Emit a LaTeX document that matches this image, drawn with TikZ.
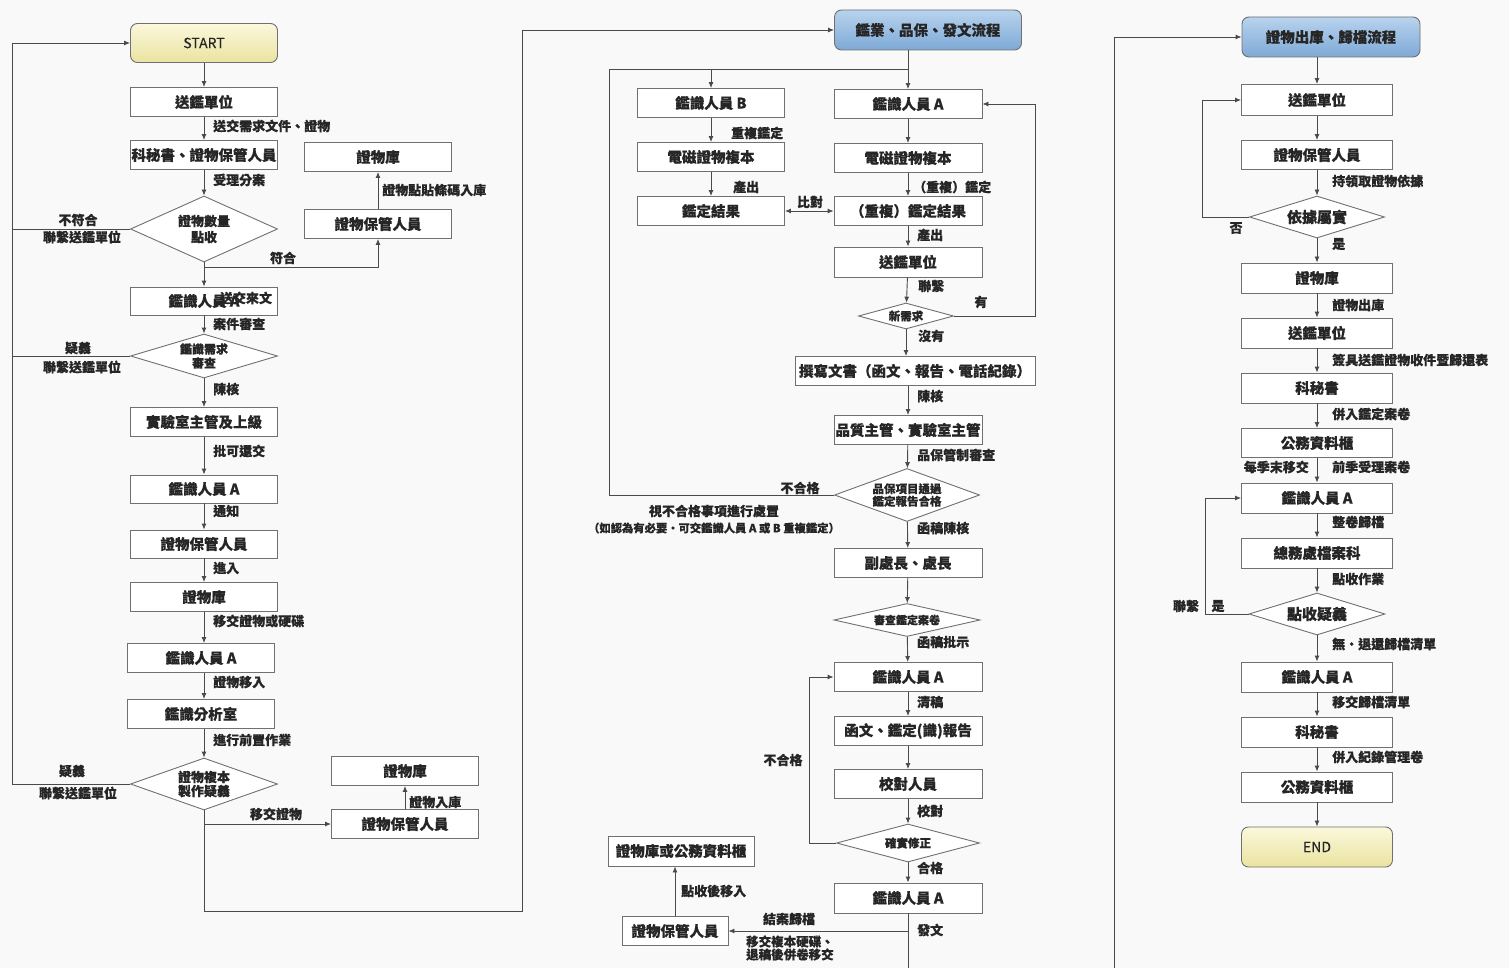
\documentclass[tikz,border=0pt]{standalone}
\usepackage{fontspec}
\setmainfont{Noto Sans CJK TC}[FakeBold=0.3]
\usetikzlibrary{shapes.geometric,arrows.meta}
\newcommand\fsz[2]{\fontsize{#1}{#2}\selectfont\bfseries}
\definecolor{bordergray}{HTML}{707070}
\definecolor{linegray}{HTML}{4A4A4A}
\definecolor{txt}{HTML}{262626}
\definecolor{bgc}{HTML}{F9F9F9}
\definecolor{ytop}{HTML}{FBF8DC}
\definecolor{ybot}{HTML}{EAE3A0}
\definecolor{btop}{HTML}{B8D3EE}
\definecolor{bbot}{HTML}{7EA9D6}
\begin{document}
\begin{tikzpicture}[x=1pt,y=-1pt,
 box/.style={draw=bordergray, line width=0.9pt, fill=white, minimum width=147pt, minimum height=29pt, inner sep=1pt, font=\fsz{14.5}{17}, text=txt},
 term/.style={box, rounded corners=7pt, top color=ytop, bottom color=ybot, minimum height=39pt, font=\fontsize{14}{16}\selectfont\mdseries},
 ttl/.style={box, rounded corners=7pt, top color=btop, bottom color=bbot, minimum height=40pt},
 dia/.style={diamond, draw=bordergray, line width=0.9pt, fill=white, inner sep=0pt, align=center, text=txt},
 lbl/.style={font=\fsz{13}{15}, text=txt, inner sep=0pt},
 arr/.style={draw=linegray, line width=0.9pt, -{Latex[length=6pt,width=5pt]}},
 ln/.style={draw=linegray, line width=0.9pt},
]
\useasboundingbox (0,0) rectangle (1509,968);
\fill[bgc] (0,0) rectangle (1509,968);

% ---------- left column ----------
\node[term] (S) at (204,43) {START};
\node[box] (L1) at (204,102) {送鑑單位};
\node[box] (L2) at (204,155) {科秘書、證物保管人員};
\node[dia, minimum width=147pt, minimum height=66pt, aspect=2.2, font=\fsz{13}{16}] (LD1) at (204,229) {證物數量\\點收};
\node[box] (LR1) at (378,157) {證物庫};
\node[box] (LR2) at (378,224) {證物保管人員};
\node[box, minimum height=28pt] (L3) at (204,301) {鑑識人員 A};
\node[dia, minimum width=147pt, minimum height=44pt, aspect=3.3, font=\fsz{12}{14}] (LD2) at (204,356) {鑑識需求\\審查};
\node[box] (L4) at (204,422) {實驗室主管及上級};
\node[box, minimum height=28pt] (L5) at (204,489) {鑑識人員 A};
\node[box, minimum height=28pt] (L6) at (204,544) {證物保管人員};
\node[box] (L7) at (204,597) {證物庫};
\node[box] (L8) at (201,658) {鑑識人員 A};
\node[box] (L9) at (201,714) {鑑識分析室};
\node[dia, minimum width=147pt, minimum height=52pt, aspect=2.8, font=\fsz{13}{14}] (LD3) at (204,784) {證物複本\\製作疑義};
\node[box] (LB1) at (405,771) {證物庫};
\node[box] (LB2) at (405,824) {證物保管人員};

\draw[arr] (S) -- (L1);
\draw[arr] (L1) -- (L2);
\draw[arr] (L2) -- (LD1);
\draw[arr] (LD1) -- (L3);
\coordinate (j1) at (204,267);
\draw[arr] (j1) -| (LR2.south);
\draw[arr] (LR2) -- (LR1);
\coordinate (LL) at (12,784);
\draw[arr] (LD3.west) -- (LL) |- (S.west);
\draw[ln] (LD1.west) -- (LD1.west -| LL);
\draw[ln] (LD2.west) -- (LD2.west -| LL);
\draw[arr] (L3) -- (LD2);
\draw[arr] (LD2) -- (L4);
\draw[arr] (L4) -- (L5);
\draw[arr] (L5) -- (L6);
\draw[arr] (L6) -- (L7);
\draw[arr] (L7.south) -- (L7.south |- L8.north);
\draw[arr] (L8.south -| L7.south) -- (L9.north -| L7.south);
\draw[arr] (L9.south -| L7.south) -- (LD3.north);
\coordinate (LBot) at (204,911);
\coordinate (LTop) at (522,30);
\draw[ln] (LD3.south) -- (LBot) -| (LTop);
\draw[arr] (LB2.west -| LD3.south) -- (LB2.west);
\draw[arr] (LB2) -- (LB1);

% ---------- middle column ----------
\node[ttl, minimum width=187pt] (M0) at (928,30) {鑑業、品保、發文流程};
\node[box] (B1) at (711,103) {鑑識人員 B};
\node[box, minimum width=148pt] (A1) at (908,104) {鑑識人員 A};
\node[box] (B2) at (711,157) {電磁證物複本};
\node[box, minimum width=148pt] (A2) at (908,158) {電磁證物複本};
\node[box] (B3) at (711,211) {鑑定結果};
\node[box, minimum width=148pt] (A3) at (908,211) {（重複）鑑定結果};
\node[box, minimum width=148pt, minimum height=30pt] (A4) at (908,262) {送鑑單位};
\node[dia, minimum width=95pt, minimum height=26pt, aspect=3.6, font=\fsz{11.5}{13}] (MD1) at (906,316) {新需求};
\node[box, minimum width=240pt] (A5) at (915,371) {撰寫文書（函文、報告、電話紀錄）};
\node[box, minimum width=148pt] (A6) at (908,430) {品質主管、實驗室主管};
\node[dia, minimum width=145pt, minimum height=53pt, aspect=2.7, font=\fsz{11.5}{12.5}] (MD2) at (907,495) {品保項目通過\\鑑定報告合格};
\node[box, minimum width=148pt] (A7) at (908,563) {副處長、處長};
\node[dia, minimum width=146pt, minimum height=33pt, aspect=4.4, font=\fsz{11}{12}] (MD3) at (907,620) {審查鑑定案卷};
\node[box, minimum width=148pt] (A8) at (908,677) {鑑識人員 A};
\node[box, minimum width=148pt] (A9) at (908,731) {函文、鑑定(識)報告};
\node[box, minimum width=148pt] (A10) at (908,784) {校對人員};
\node[dia, minimum width=143pt, minimum height=38pt, aspect=3.7, font=\fsz{11.5}{13}] (MD4) at (908,843) {確實修正};
\node[box, minimum width=148pt, minimum height=30pt] (A11) at (908,898) {鑑識人員 A};
\node[box, minimum width=106pt] (C1) at (675,931) {證物保管人員};
\node[box, minimum width=146pt, minimum height=30pt] (C2) at (681,851) {證物庫或公務資料櫃};

\draw[arr] (LTop) -- (M0.west);
\coordinate (mj) at (908,69);
\coordinate (mL) at (609,69);
\draw[arr] (M0.south -| mj) -- (A1);
\draw[ln] (mL) -- (mj);
\draw[arr] (mj -| B1) -- (B1);
\draw[ln] (MD2.west) -| (mL);
\draw[arr] (B1) -- (B2);
\draw[arr] (B2) -- (B3);
\draw[arr] (A1) -- (A2);
\draw[arr] (A2) -- (A3);
\draw[arr] (A3) -- (A4);
\draw[arr] (A4) -- (MD1);
\draw[arr] (MD1.south) -- (MD1.south |- A5.north);
\draw[arr] (A5.south -| A6) -- (A6);
\draw[arr] (A6) -- (MD2);
\draw[arr] (MD2) -- (A7);
\draw[arr] (A7) -- (MD3);
\draw[arr] (MD3) -- (A8);
\draw[arr] (A8) -- (A9);
\draw[arr] (A9) -- (A10);
\draw[arr] (A10) -- (MD4);
\draw[arr] (MD4) -- (A11);
\draw[arr, {Latex[length=6pt,width=5pt]}-{Latex[length=6pt,width=5pt]}] (B3) -- (A3);
\coordinate (mR) at (1035,316);
\draw[arr] (MD1.east) -- (mR) |- (A1.east);
\coordinate (mLL) at (809,843);
\draw[arr] (MD4.west) -- (mLL) |- (A8.west);
\coordinate (mB) at (908,968);
\draw[ln] (A11) -- (mB);
\draw[arr] (A11.south |- C1.east) -- (C1.east);
\draw[arr] (C1.north) -- (C1.north |- C2.south);

% ---------- right column ----------
\node[ttl, minimum width=178pt] (R0) at (1331,37) {證物出庫、歸檔流程};
\node[box, minimum width=151pt, minimum height=31pt] (R1) at (1317,100) {送鑑單位};
\node[box, minimum width=151pt] (R2) at (1317,155) {證物保管人員};
\node[dia, minimum width=135pt, minimum height=42pt, aspect=3.2, font=\fsz{15}{17}] (RD1) at (1317,217) {依據屬實};
\node[box, minimum width=151pt, minimum height=30pt] (R3) at (1317,278) {證物庫};
\node[box, minimum width=151pt, minimum height=30pt] (R4) at (1317,333) {送鑑單位};
\node[box, minimum width=151pt, minimum height=30pt] (R5) at (1317,388) {科秘書};
\node[box, minimum width=151pt] (R6) at (1317,443) {公務資料櫃};
\node[box, minimum width=151pt, minimum height=30pt] (R7) at (1317,498) {鑑識人員 A};
\node[box, minimum width=151pt, minimum height=30pt] (R8) at (1317,553) {總務處檔案科};
\node[dia, minimum width=136pt, minimum height=42pt, aspect=3.2, font=\fsz{15}{17}] (RD2) at (1317,614) {點收疑義};
\node[box, minimum width=151pt, minimum height=30pt] (R9) at (1317,677) {鑑識人員 A};
\node[box, minimum width=151pt, minimum height=30pt] (R10) at (1317,732) {科秘書};
\node[box, minimum width=151pt, minimum height=30pt] (R11) at (1317,787) {公務資料櫃};
\node[term, minimum width=151pt, minimum height=40pt] (E) at (1317,847) {END};

\draw[arr] (R0.south -| R1) -- (R1);
\draw[arr] (R1) -- (R2);
\draw[arr] (R2) -- (RD1);
\draw[arr] (RD1) -- (R3);
\draw[arr] (R3) -- (R4);
\draw[arr] (R4) -- (R5);
\draw[arr] (R5) -- (R6);
\draw[arr] (R6) -- (R7);
\draw[arr] (R7) -- (R8);
\draw[arr] (R8) -- (RD2);
\draw[arr] (RD2) -- (R9);
\draw[arr] (R9) -- (R10);
\draw[arr] (R10) -- (R11);
\draw[arr] (R11) -- (E);
\coordinate (rL1) at (1202,217);
\draw[arr] (RD1.west) -- (rL1) |- (R1.west);
\coordinate (rL2) at (1205,614);
\draw[arr] (RD2.west) -- (rL2) |- (R7.west);
\coordinate (rB) at (1114,968);
\draw[arr] (rB) |- (R0.west);

% ---------- labels ----------
\node[lbl, anchor=west] (t1) at (213,126) {送交需求文件、證物};
\node[lbl, anchor=west] (t2) at (213,180) {受理分案};
\node[lbl] (t3) at (78,220) {不符合};
\node[lbl] (t4) at (82,237) {聯繫送鑑單位};
\node[lbl, anchor=west] (t5) at (382,190) {證物點貼條碼入庫};
\node[lbl] (t6) at (283,258) {符合};
\node[lbl] (t7) at (246,298) {送交來文};
\node[lbl, anchor=west] (t8) at (213,324) {案件審查};
\node[lbl] (t9) at (78,348) {疑義};
\node[lbl] (t10) at (82,367) {聯繫送鑑單位};
\node[lbl, anchor=west] (t11) at (213,389) {陳核};
\node[lbl, anchor=west] (t12) at (213,451) {批可還交};
\node[lbl, anchor=west] (t13) at (213,511) {通知};
\node[lbl, anchor=west] (t14) at (213,568) {進入};
\node[lbl, anchor=west] (t15) at (213,621) {移交證物或硬碟};
\node[lbl, anchor=west] (t16) at (213,682) {證物移入};
\node[lbl, anchor=west] (t17) at (213,740) {進行前置作業};
\node[lbl] (t18) at (72,771) {疑義};
\node[lbl] (t19) at (78,793) {聯繫送鑑單位};
\node[lbl] (t20) at (276,814) {移交證物};
\node[lbl, anchor=west] (t21) at (409,802) {證物入庫};

\node[lbl, anchor=west] (u1) at (731,133) {重複鑑定};
\node[lbl, anchor=west] (u2) at (733,187) {產出};
\node[lbl, anchor=west] (u3) at (913,187) {（重複）鑑定};
\node[lbl] (u4) at (810,202) {比對};
\node[lbl, anchor=west] (u5) at (917,235) {產出};
\node[lbl, anchor=west] (u6) at (918,286) {聯繫};
\node[lbl] (u7) at (981,302) {有};
\node[lbl, anchor=west] (u8) at (918,336) {沒有};
\node[lbl, anchor=west] (u9) at (917,396) {陳核};
\node[lbl, anchor=west] (u10) at (917,455) {品保管制審查};
\node[lbl] (u11) at (800,488) {不合格};
\node[lbl] (u12) at (714,511) {視不合格事項進行處置};
\node[lbl, font=\fsz{11.3}{13}] (u13) at (714,528) {（如認為有必要・可交鑑識人員 A 或 B 重複鑑定）};
\node[lbl, anchor=west] (u14) at (917,528) {函稿陳核};
\node[lbl, anchor=west] (u15) at (917,642) {函稿批示};
\node[lbl, anchor=west] (u16) at (917,702) {清稿};
\node[lbl] (u17) at (783,760) {不合格};
\node[lbl, anchor=west] (u18) at (917,811) {校對};
\node[lbl, anchor=west] (u19) at (917,868) {合格};
\node[lbl, anchor=west] (u20) at (917,930) {發文};
\node[lbl] (u21) at (789,919) {結案歸檔};
\node[lbl, align=left, anchor=west, font=\fsz{12.5}{13}] (u22) at (746,948) {移交複本硬碟、\\退稿後併卷移交};
\node[lbl, anchor=west] (u23) at (681,891) {點收後移入};

\node[lbl, anchor=west] (v1) at (1332,181) {持領取證物依據};
\node[lbl] (v2) at (1236,228) {否};
\node[lbl, anchor=west] (v3) at (1332,244) {是};
\node[lbl, anchor=west] (v4) at (1332,305) {證物出庫};
\node[lbl, anchor=west] (v5) at (1332,360) {簽具送鑑證物收件暨歸還表};
\node[lbl, anchor=west] (v6) at (1332,414) {併入鑑定案卷};
\node[lbl, anchor=east] (v7) at (1309,467) {每季末移交};
\node[lbl, anchor=west] (v8) at (1332,467) {前季受理案卷};
\node[lbl, anchor=west] (v9) at (1332,522) {整卷歸檔};
\node[lbl, anchor=west] (v10) at (1332,579) {點收作業};
\node[lbl] (v11) at (1186,606) {聯繫};
\node[lbl] (v12) at (1218,606) {是};
\node[lbl, anchor=west] (v13) at (1332,644) {無・退還歸檔清單};
\node[lbl, anchor=west] (v14) at (1332,702) {移交歸檔清單};
\node[lbl, anchor=west] (v15) at (1332,757) {併入紀錄管理卷};
\end{tikzpicture}
\end{document}
